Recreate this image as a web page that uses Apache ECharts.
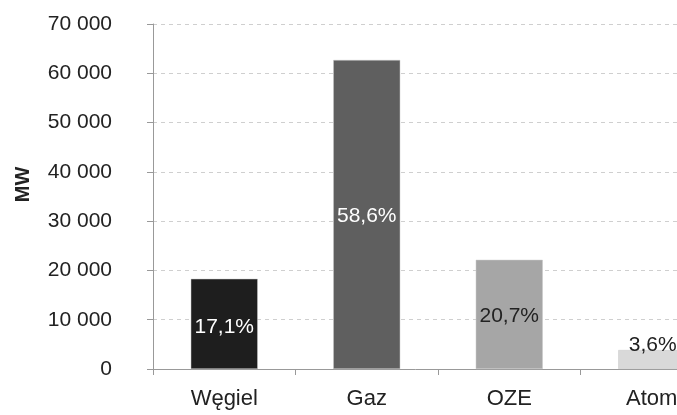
<!DOCTYPE html>
<html><head><meta charset="utf-8">
<script src="https://cdn.jsdelivr.net/npm/echarts@6/dist/echarts.min.js"></script>
<style>html,body{margin:0;padding:0;background:#fff}#c{width:677px;height:415px}</style>
</head><body><div id="c"></div>
<script>
var categories = ['Węgiel', 'Gaz', 'OZE', 'Atom'];
var values = [18300, 62700, 22150, 3850];
var shares = ['17,1%', '58,6%', '20,7%', '3,6%'];
var barColors = ['#1e1e1e', '#5f5f5f', '#a6a6a6', '#d9d9d9'];
var labelColors = ['#ffffff', '#ffffff', '#222222', '#222222'];
var labelPositions = ['inside', 'inside', 'inside', 'top'];
var yTicks = [0, 10000, 20000, 30000, 40000, 50000, 60000, 70000];

var chart = echarts.init(document.getElementById('c'));
var font = 'Liberation Sans, Arial, sans-serif';
chart.setOption({
  animation: false,
  grid: { left: 153, top: 24, width: 570, height: 345, containLabel: false, outerBoundsMode: 'none' },
  xAxis: {
    type: 'category',
    data: categories,
    axisLine: { lineStyle: { color: '#999', width: 1 } },
    axisTick: { show: true, length: 6, lineStyle: { color: '#999' } },
    axisLabel: { color: '#222', fontSize: 22, fontFamily: font, margin: 19 }
  },
  yAxis: {
    type: 'value',
    min: yTicks[0],
    max: yTicks[yTicks.length - 1],
    interval: 10000,
    name: 'MW',
    nameLocation: 'middle',
    nameGap: 120,
    nameRotate: 90,
    nameTextStyle: { color: '#222', fontSize: 20, fontWeight: 'bold', fontFamily: font, padding: [0, 0, 0, 24] },
    axisLine: { show: true, lineStyle: { color: '#999', width: 1 } },
    axisTick: { show: true, length: 6, lineStyle: { color: '#999' } },
    axisLabel: {
      color: '#222', fontSize: 21, fontFamily: font, margin: 41,
      formatter: function (v) { return String(v).replace(/\B(?=(\d{3})+(?!\d))/g, ' '); }
    },
    splitLine: { show: true, lineStyle: { color: '#cfcfcf', type: [4, 4], width: 1 } }
  },
  series: [{
    type: 'bar',
    barWidth: 67,
    data: values.map(function (v, i) {
      return {
        value: v,
        itemStyle: { color: barColors[i], borderColor: '#c8c8c8', borderWidth: 0.5 },
        label: {
          show: true, position: labelPositions[i], distance: i === 3 ? 0 : 5,
          formatter: shares[i], color: labelColors[i], fontSize: 21, fontFamily: font,
          offset: i === 0 ? [0, 3] : (i === 3 ? [1, 6] : (i === 1 ? [0, 2] : [0, 2]))
        }
      };
    })
  }]
});
</script></body></html>
